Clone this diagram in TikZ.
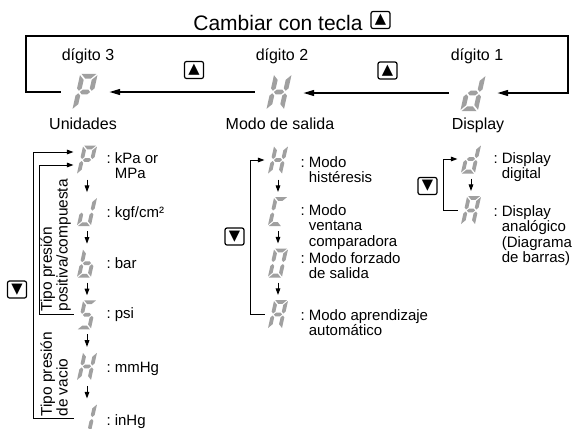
\documentclass[tikz,border=0pt]{standalone}
\usepackage{fontspec}
\setmainfont{Liberation Sans}
\newfontfamily\symfont{DejaVu Sans}
\usetikzlibrary{arrows.meta}

\definecolor{segcol}{RGB}{160,160,160}

% segment outlines of a seven segment digit (y downwards)
\newcommand{\sgpa}{(-6,-14.5) -- (6,-14.5) -- (2.2,-10.7) -- (-2.2,-10.7) -- cycle}
\newcommand{\sgpb}{(7,-13.5) -- (7,-2.9) -- (5.1,-1) -- (3.2,-2.9) -- (3.2,-9.7) -- cycle}
\newcommand{\sgpc}{(7,13.5) -- (7,2.9) -- (5.1,1) -- (3.2,2.9) -- (3.2,9.7) -- cycle}
\newcommand{\sgpd}{(-6,14.5) -- (6,14.5) -- (2.2,10.7) -- (-2.2,10.7) -- cycle}
\newcommand{\sgpe}{(-7,13.5) -- (-7,2.9) -- (-5.1,1) -- (-3.2,2.9) -- (-3.2,9.7) -- cycle}
\newcommand{\sgpf}{(-7,-13.5) -- (-7,-2.9) -- (-5.1,-1) -- (-3.2,-2.9) -- (-3.2,-9.7) -- cycle}
\newcommand{\sgpg}{(-4.1,0) -- (-2.2,-1.9) -- (2.2,-1.9) -- (4.1,0) -- (2.2,1.9) -- (-2.2,1.9) -- cycle}

\tikzset{every picture/.style={line width=0.75pt}}
\tikzset{
  glyph/.style={minimum width=19.5pt, minimum height=28.5pt, inner sep=0pt},
  bigglyph/.style={minimum width=36pt, minimum height=27pt, inner sep=0pt},
  glyph seg/.style={scale=1},
  bigglyph seg/.style={scale=1.25},
  keybox/.style={draw, rounded corners=1.5pt, line width=0.9pt, minimum width=14.25pt, minimum height=12.75pt, inner sep=0pt, font=\symfont\fontsize{11}{11}\selectfont},
  lbl/.style={font=\fontsize{12}{14}\selectfont, inner sep=0pt, anchor=base},
  itm/.style={font=\fontsize{11.25}{11.3}\selectfont, inner sep=0pt, align=left, anchor=north west},
  vtxt/.style={font=\fontsize{11.6}{9.4}\selectfont, inner sep=0pt, align=left, rotate=90, anchor=north west},
  arrm/.style={-{Triangle[length=8pt,width=4.5pt]}, line width=1pt},
  arrs/.style={-{Triangle[length=5pt,width=3.5pt]}},
}

% seven segment digit: style, position, name, segments
\newcommand{\sevseg}[4]{%
  \node[#1] (#3) at (#2) {};
  \begin{scope}[shift={(#2)},#1 seg,xslant=-0.22]
    \foreach \s in {#4} {\edef\segtmp{\noexpand\fill[segcol] \csname sgp\s\endcsname;}\segtmp}
  \end{scope}}
\newcommand{\indt}{\phantom{:\ }}

\begin{document}
\begin{tikzpicture}[x=0.75pt,y=0.75pt,yscale=-1,xscale=1]
    \useasboundingbox (0,0) rectangle (576,429);

    % Title
    \node[font=\fontsize{15.75}{18}\selectfont, inner sep=0pt, anchor=base] (title) at (278,30.5) {Cambiar con tecla};
    \node[keybox] (keyT) at (380.5,20) {▲};

    % Digits row
    \node[lbl] (dig3) at (88,60) {dígito 3};
    \node[lbl] (dig2) at (282,60) {dígito 2};
    \node[lbl] (dig1) at (477,60) {dígito 1};
    \sevseg{bigglyph}{85,92}{dUnits}{a,b,e,f,g}
    \sevseg{bigglyph}{279,92}{dMode}{b,c,e,f,g}
    \sevseg{bigglyph}{473,93}{dDisp}{b,c,d,e,g}
    \node[lbl] (lUnits) at (83,129.5) {Unidades};
    \node[lbl] (lMode) at (280,129.5) {Modo de salida};
    \node[lbl] (lDisp) at (478,129.5) {Display};
    \node[keybox] (keyU1) at (194,70) {▲};
    \node[keybox] (keyU2) at (387.5,70.5) {▲};
    \coordinate (frameL) at (26,36);
    \coordinate (frameR) at (568,36);
    \draw[arrm] (dMode.west) -- (dUnits.east);
    \draw[arrm] (dDisp.west) -- (dMode.east |- dDisp.west);
    \draw[arrm] (dUnits.west) -| (frameL) -- (frameR) |- (dDisp.east);

    % Units column
    \sevseg{glyph}{87,160}{dkPa}{a,b,e,f,g}
    \sevseg{glyph}{87,211.6}{dkgf}{b,c,d,e}
    \sevseg{glyph}{87,263.2}{dbar}{c,d,e,f,g}
    \sevseg{glyph}{87,314.8}{dpsi}{a,f,g,c,d}
    \sevseg{glyph}{87,366.4}{dmmHg}{b,c,e,f,g}
    \sevseg{glyph}{87,418}{dinHg}{b,c}
    \foreach \a/\b in {dkPa/dkgf,dkgf/dbar,dbar/dpsi,dpsi/dmmHg,dmmHg/dinHg}
      \draw[arrs] (\a) -- (\b);
    \coordinate (brkOut) at (33,152);
    \coordinate (brkIn) at (39,165);
    \draw[arrs] (dinHg.west) -| (brkOut) -- (brkOut -| dkPa.west);
    \draw[arrs] (dpsi.west) -| (brkIn) -- (brkIn -| dkPa.west);
    \node[vtxt] (tPos) at (40,312) {Tipo presión\\positiva/compuesta};
    \node[vtxt] (tVac) at (40,417) {Tipo presión\\de vacio};
    \node[keybox] (keyD1) at (17,289.5) {▼};
    \node[itm] (tkPa) at (106,152.5) {:\ kPa or\\\indt MPa};
    \node[itm] (tkgf) at (106,206.5) {:\ kgf/cm²};
    \node[itm] (tbar) at (106,257.5) {:\ bar};
    \node[itm] (tpsi) at (106,307.5) {:\ psi};
    \node[itm] (tmmHg) at (106,361.5) {:\ mmHg};
    \node[itm] (tinHg) at (106,414.5) {:\ inHg};

    % Output mode column
    \sevseg{glyph}{278,160}{dHist}{b,c,e,f,g}
    \sevseg{glyph}{278,211.5}{dWin}{a,d,e,f}
    \sevseg{glyph}{278,263}{dForce}{a,b,c,d,e,f}
    \sevseg{glyph}{278,314.5}{dAuto}{a,b,c,e,f,g}
    \foreach \a/\b in {dHist/dWin,dWin/dForce,dForce/dAuto}
      \draw[arrs] (\a) -- (\b);
    \coordinate (brkMid) at (250,160);
    \draw[arrs] (dAuto.west) -| (brkMid) -- (dHist.west);
    \node[keybox] (keyD2) at (234.5,236.5) {▼};
    \node[itm] (tHist) at (300,156.5) {:\ Modo\\\indt histéresis};
    \node[itm] (tWin) at (300,204.5) {:\ Modo\\\indt ventana\\\indt comparadora};
    \node[itm] (tForce) at (300,252.5) {:\ Modo forzado\\\indt de salida};
    \node[itm] (tAuto) at (300,309.5) {:\ Modo aprendizaje\\\indt automático};

    % Display column
    \sevseg{glyph}{471,159}{dDig}{b,c,d,e,g}
    \sevseg{glyph}{471,210.5}{dBar}{a,b,c,e,f,g}
    \draw[arrs] (dDig) -- (dBar);
    \coordinate (brkRt) at (443,159);
    \draw[arrs] (dBar.west) -| (brkRt) -- (dDig.west);
    \node[keybox] (keyD3) at (427.5,186) {▼};
    \node[itm] (tDig) at (493,152.5) {:\ Display\\\indt digital};
    \node[itm] (tBar) at (493,205.5) {:\ Display\\\indt analógico\\\indt (Diagrama\\\indt de barras)};
\end{tikzpicture}
\end{document}
